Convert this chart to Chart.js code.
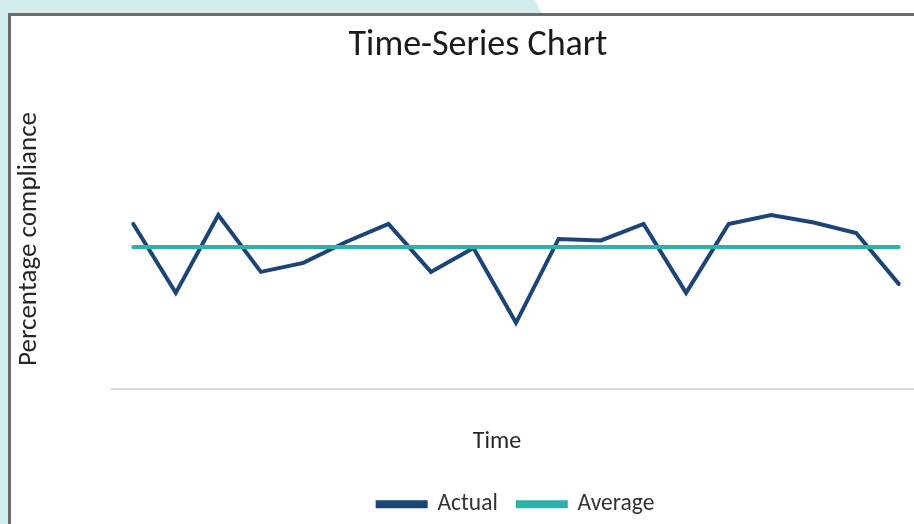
<!DOCTYPE html>
<html>
<head>
<meta charset="utf-8">
<script src="https://cdn.jsdelivr.net/npm/chart.js@4.4.1/dist/chart.umd.min.js"></script>
<style>
  html, body { margin: 0; padding: 0; }
  body { width: 914px; height: 524px; overflow: hidden; position: relative; background: #d3ecee; }
  #corner { position: absolute; left: 0; top: 0; width: 914px; height: 20px; background: #ffffff;
            clip-path: polygon(535px 0, 914px 0, 914px 20px, 545px 20px); }
  #frame { position: absolute; left: 8px; top: 13px; width: 1000px; height: 600px;
           border: 3px solid #6b6b6b; background: #ffffff; }
  #wrap { position: absolute; left: 11px; top: 16px; width: 934px; height: 510px; }
</style>
</head>
<body>
<div id="corner"></div>
<div id="frame"></div>
<div id="wrap"><canvas id="chart"></canvas></div>
<script>
// values (0-100 % scale)
var timeLabels = ['1','2','3','4','5','6','7','8','9','10','11','12','13','14','15','16','17','18','19'];
var actualValues = [55, 32, 58, 39, 42, 49, 55, 39, 47, 22, 50, 49.5, 55, 32, 55, 58, 55.5, 52, 35];
var averageValue = 47.3;
var averageValues = timeLabels.map(function () { return averageValue; });

var navy = '#1c4576';
var teal = '#2bb3ab';
var fontFamily = 'Carlito, Lato, sans-serif';

var ctx = document.getElementById('chart');
var chart = new Chart(ctx, {
    type: 'line',
    data: {
        labels: timeLabels,
        datasets: [
            {
                label: 'Actual',
                data: actualValues,
                borderColor: navy,
                backgroundColor: navy,
                borderWidth: 4,
                borderCapStyle: 'round',
                pointRadius: 0,
                tension: 0,
                order: 1
            },
            {
                label: 'Average',
                data: averageValues,
                borderColor: teal,
                backgroundColor: teal,
                borderWidth: 4,
                borderCapStyle: 'round',
                pointRadius: 0,
                tension: 0,
                order: 0
            }
        ]
    },
    options: {
        responsive: true,
        maintainAspectRatio: false,
        animation: false,
        layout: { padding: { left: 25, right: 25, top: 0, bottom: 0 } },
        plugins: {
            title: {
                display: true,
                text: 'Time-Series Chart',
                color: '#1a1a1a',
                font: { family: fontFamily, size: 36, weight: 'normal' },
                padding: { top: 8, bottom: 22 }
            },
            legend: {
                position: 'bottom',
                fullSize: false,
                labels: {
                    boxWidth: 48,
                    boxHeight: 4,
                    padding: 20,
                    color: '#333333',
                    font: { family: fontFamily, size: 23.5 },
                    sort: function (a, b) { return a.datasetIndex - b.datasetIndex; }
                }
            },
            tooltip: { enabled: false }
        },
        scales: {
            x: {
                offset: true,
                grid: { display: false, drawTicks: false },
                ticks: { display: false },
                border: { display: true, color: '#d9d9d9', width: 2 },
                title: {
                    display: true,
                    // trailing spaces nudge the centred title left, as in the original
                    text: 'Time       ',
                    color: '#262626',
                    font: { family: fontFamily, size: 24 },
                    padding: { top: 39, bottom: 16 }
                }
            },
            y: {
                min: 0,
                max: 100,
                grid: { display: false, drawTicks: false },
                ticks: { display: false },
                border: { display: false },
                title: {
                    display: true,
                    text: 'Percentage compliance',
                    color: '#262626',
                    font: { family: fontFamily, size: 27 },
                    padding: { top: -23, bottom: 0 }
                },
                afterFit: function (scale) { scale.width = 76; }
            }
        }
    }
});
</script>
</body>
</html>
